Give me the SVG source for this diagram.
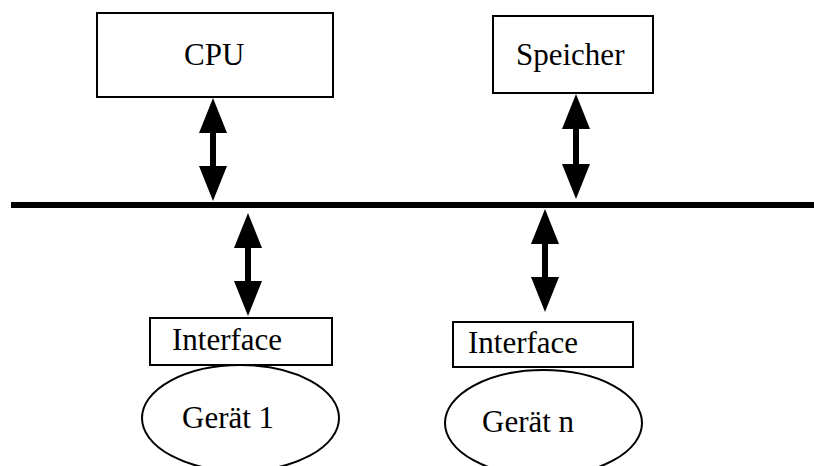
<svg xmlns="http://www.w3.org/2000/svg" width="814" height="466" viewBox="0 0 814 466">
  <style>
    .box { fill: #ffffff; stroke: #000000; stroke-width: 2; }
    .ell { fill: #ffffff; stroke: #000000; stroke-width: 2; }
    .lbl { font-family: "Liberation Serif", "Times New Roman", serif; font-size: 31px; fill: #000000; }
    .shaft { stroke: #000000; stroke-width: 6; fill: none; marker-start: url(#head); marker-end: url(#head); }
    .bus { stroke: #000000; stroke-width: 6; }
  </style>
  <defs>
    <marker id="head" markerUnits="userSpaceOnUse" orient="auto-start-reverse" markerWidth="35" markerHeight="28" refX="1" refY="14" viewBox="0 0 35 28">
      <path d="M0,0 L35,14 L0,28 z" fill="#000000"/>
    </marker>
  </defs>
  <rect width="814" height="466" fill="#ffffff"/>

  <g id="bus">
    <line class="bus" x1="11" y1="205" x2="814" y2="205"/>
  </g>

  <g id="cpu">
    <rect class="box" x="97" y="13" width="236" height="84"/>
    <text class="lbl" x="184" y="65">CPU</text>
  </g>

  <g id="speicher">
    <rect class="box" x="493" y="16" width="160" height="77"/>
    <text class="lbl" x="516" y="65">Speicher</text>
  </g>

  <g id="interface1">
    <rect class="box" x="150" y="318" width="182" height="47"/>
    <text class="lbl" x="172" y="350">Interface</text>
  </g>

  <g id="interface2">
    <rect class="box" x="453" y="322" width="180" height="45"/>
    <text class="lbl" x="468" y="353">Interface</text>
  </g>

  <g id="geraet1">
    <ellipse class="ell" cx="240.5" cy="418" rx="98.5" ry="53"/>
    <text class="lbl" x="182" y="428">Gerät 1</text>
  </g>

  <g id="geraetn">
    <ellipse class="ell" cx="543.5" cy="423" rx="98.5" ry="53"/>
    <text class="lbl" x="482" y="432">Gerät n</text>
  </g>

  <g id="connectors">
    <line class="shaft" x1="213" y1="132" x2="213" y2="167"/>
    <line class="shaft" x1="576" y1="128" x2="576" y2="165"/>
    <line class="shaft" x1="248" y1="247" x2="248" y2="282"/>
    <line class="shaft" x1="545" y1="243" x2="545" y2="278"/>
  </g>
</svg>
